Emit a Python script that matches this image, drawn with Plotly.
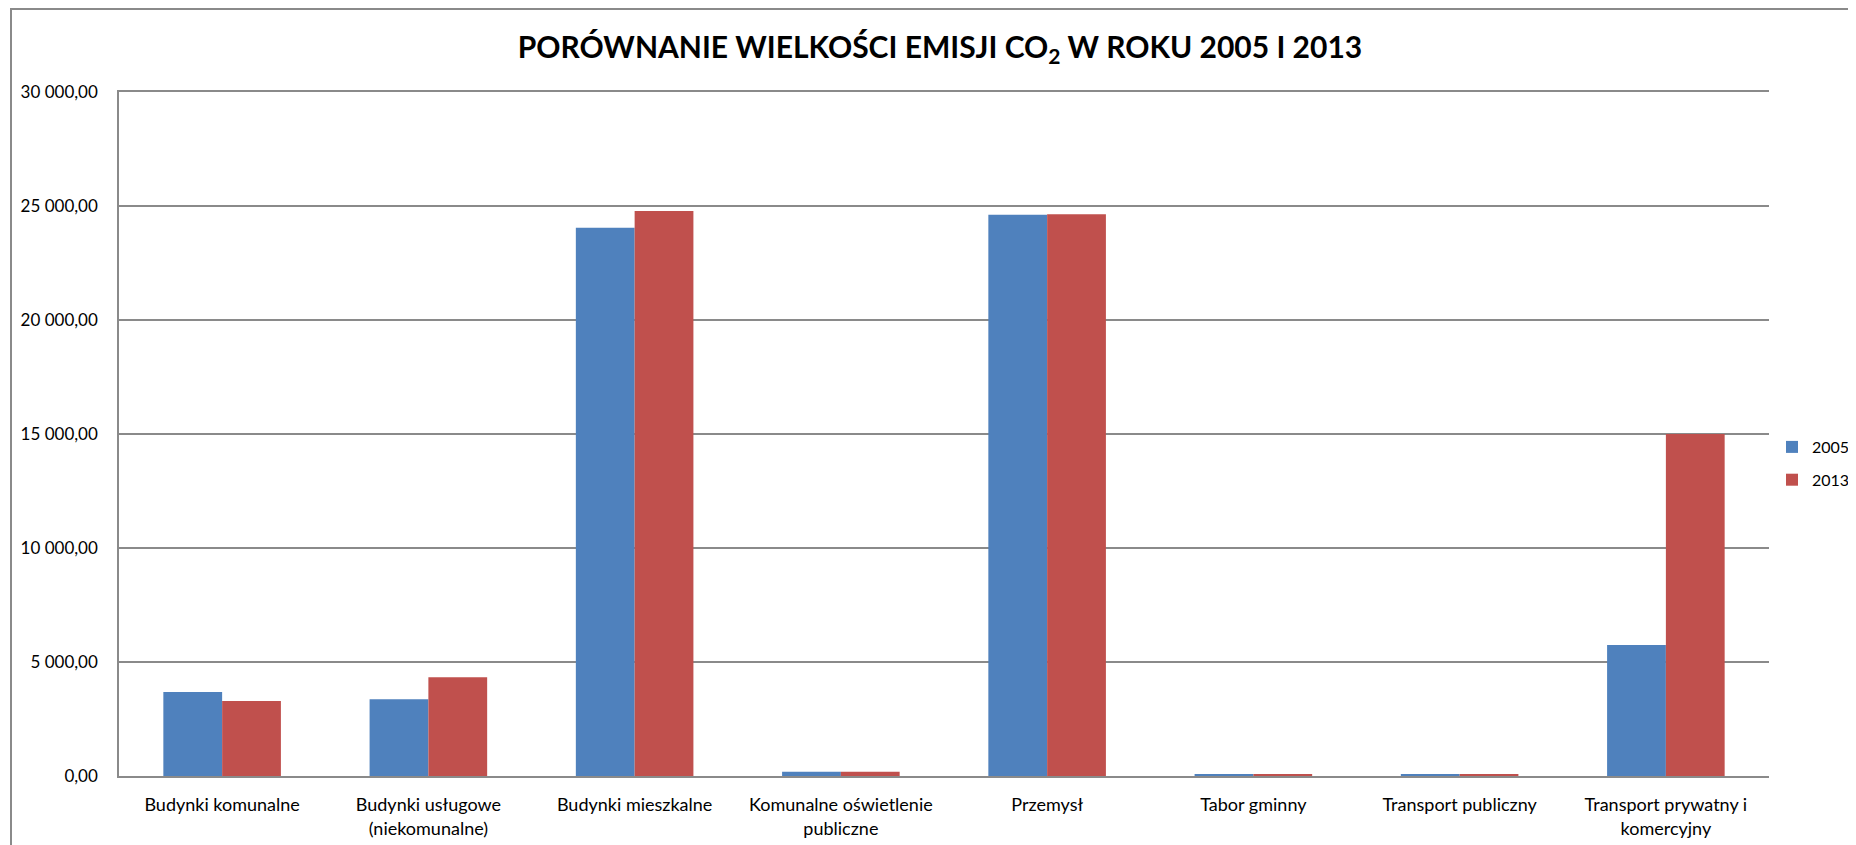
import plotly.graph_objects as go

categories = [
    "Budynki komunalne",
    "Budynki usługowe<br>(niekomunalne)",
    "Budynki mieszkalne",
    "Komunalne oświetlenie<br>publiczne",
    "Przemysł",
    "Tabor gminny",
    "Transport publiczny",
    "Transport prywatny i<br>komercyjny",
]
values_2005 = [3684, 3364, 24048, 189, 24620, 75, 75, 5746]
values_2013 = [3290, 4329, 24781, 189, 24635, 75, 75, 15000]
series_names = ["2005", "2013"]
tick_values = [0, 5000, 10000, 15000, 20000, 25000, 30000]
tick_labels = ["0,00", "5 000,00", "10 000,00", "15 000,00", "20 000,00", "25 000,00", "30 000,00"]
title_text = "PORÓWNANIE WIELKOŚCI EMISJI CO<sub>2</sub> W ROKU 2005 I 2013"

FONT = "Lato, Carlito, Calibri, sans-serif"
O = 8  # page body margin offset
W, H = 1856 - O, 845 - O
# plot area in screen pixels: x 119..1769, y 92..776
L, R, T, B = 119 - O, W - (1769 - O), 92 - O, H - (776 - O)
pw, ph = W - L - R, H - T - B


def px_x(x):
    return (x - O - L) / pw


def px_y(y):
    return (H - B - (y - O)) / ph


fig = go.Figure()
fig.add_trace(go.Bar(x=categories, y=values_2005, name=series_names[0],
                     marker=dict(color="#4F81BD", line=dict(width=0)), legendgroup="a"))
fig.add_trace(go.Bar(x=categories, y=values_2013, name=series_names[1],
                     marker=dict(color="#C0504D", line=dict(width=0)), legendgroup="b"))

fig.update_layout(
    width=W, height=H,
    margin=dict(l=L, r=R, t=T, b=B, autoexpand=False),
    paper_bgcolor="white", plot_bgcolor="white",
    barmode="group", bargap=0.43, bargroupgap=0,
    font=dict(family=FONT, size=17, color="black"),
    title=dict(text="<b>" + title_text + "</b>", x=px_x(940), xref="paper", xanchor="center",
               y=1 - (47 - O) / H, yref="container", yanchor="middle",
               font=dict(family=FONT, size=30, color="black")),
    showlegend=True,
    legend=dict(x=px_x(1772), xanchor="left", y=px_y(430), yanchor="top",
                font=dict(family=FONT, size=16, color="black"),
                traceorder="grouped", tracegroupgap=9, bgcolor="rgba(0,0,0,0)",
                itemwidth=30),
    xaxis=dict(showgrid=False, showline=True, linecolor="#8a8a8a", linewidth=1.5,
               mirror=True, ticks="", ticklabelstandoff=12,
               tickfont=dict(family=FONT, size=18, color="black"),
               fixedrange=True),
    yaxis=dict(range=[0, 30000], tickvals=tick_values, ticktext=tick_labels,
               showgrid=True, gridcolor="#8a8a8a", gridwidth=1.5,
               showline=True, linecolor="#8a8a8a", linewidth=1.5, mirror=False,
               ticks="", ticklabelstandoff=16,
               tickfont=dict(family=FONT, size=17, color="black"),
               zeroline=False, fixedrange=True),
)

# outer chart border
fig.add_shape(type="rect", xref="paper", yref="paper",
              x0=px_x(11), x1=px_x(1880), y0=px_y(9), y1=px_y(880),
              line=dict(color="#8a8a8a", width=2), fillcolor="rgba(0,0,0,0)", layer="below")

fig.write_html("out.html")
